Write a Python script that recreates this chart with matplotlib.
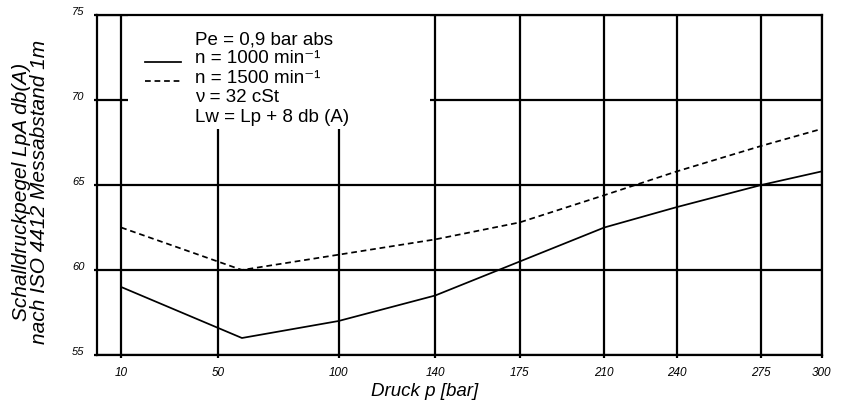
import matplotlib
matplotlib.use("Agg")
import matplotlib.pyplot as plt
from matplotlib.lines import Line2D
from matplotlib.patches import Rectangle
from matplotlib.legend_handler import HandlerLine2D

plt.rcParams['font.family'] = ['Liberation Sans', 'DejaVu Sans']

# Druck p [bar] und Schalldruckpegel LpA [db(A)]
druck = [10, 60, 100, 140, 175, 210, 240, 275, 300]
lpa_n1000 = [59.0, 56.0, 57.0, 58.5, 60.5, 62.5, 63.7, 65.0, 65.8]
lpa_n1500 = [62.5, 60.0, 60.9, 61.8, 62.8, 64.4, 65.8, 67.3, 68.3]

x_ticks = [10, 50, 100, 140, 175, 210, 240, 275, 300]
y_ticks = [55, 60, 65, 70, 75]

legend_labels = ["Pe = 0,9 bar abs",
                 "n = 1000 min\u207b\u00b9",
                 "n = 1500 min\u207b\u00b9",
                 "\u03bd = 32 cSt",
                 "Lw = Lp + 8 db (A)"]


class LowLine(HandlerLine2D):
    # legend key sits close to the text baseline
    def create_artists(self, legend, orig_handle, xdescent, ydescent,
                       width, height, fontsize, trans):
        return super().create_artists(legend, orig_handle, xdescent, ydescent,
                                      width, height * 0.3, fontsize, trans)


dash = (0, (3.3, 2.2))

fig = plt.figure(figsize=(8.43, 4.12), dpi=100)
ax = fig.add_axes([97/843, 1-355/412, 724.7/843, 340/412])

ax.plot(druck, lpa_n1000, color='black', lw=1.25)
ax.plot(druck, lpa_n1500, color='black', lw=1.25, linestyle=dash)

ax.set_xlim(0, 300)
ax.set_ylim(55, 75)
ax.set_xticks(x_ticks)
ax.set_yticks(y_ticks)
ax.set_xticklabels([str(v) for v in x_ticks], fontstyle='italic', fontsize=8.5)
ax.set_yticklabels([str(v) for v in y_ticks], fontstyle='italic', fontsize=8)
for lbl in ax.get_yticklabels():
    lbl.set_verticalalignment('baseline')

ax.grid(True, color='black', lw=1.6)
ax.tick_params(direction='out', length=2.5, width=1.6, color='black')
ax.tick_params(axis='x', pad=6.5)
ax.tick_params(axis='y', pad=6.5)
for s in ax.spines.values():
    s.set_linewidth(1.6)

# white area behind the legend text (grid is interrupted there)
ax.add_patch(Rectangle((0.0428, 0.665), 0.417, 0.34, transform=ax.transAxes,
                       facecolor='white', edgecolor='none', zorder=2.2))

handles = [Line2D([], [], color='none'),
           Line2D([], [], color='black', lw=1.25),
           Line2D([], [], color='black', lw=1.25, linestyle=dash),
           Line2D([], [], color='none'),
           Line2D([], [], color='none')]
leg = ax.legend(handles, legend_labels, loc='upper left',
                bbox_to_anchor=(0.0662, 0.953), borderaxespad=0, borderpad=0,
                frameon=False, fontsize=13.5, handlelength=1.9,
                handletextpad=0.75, labelspacing=0.12,
                handler_map={Line2D: LowLine()})
leg.set_zorder(3)

fig.text(30.5/843, 1-192/412, "Schalldruckpegel LpA db(A)\nnach ISO 4412 Messabstand 1m",
         rotation=90, ha='center', va='center', fontstyle='italic', fontsize=15,
         multialignment='center', linespacing=0.95)
fig.text(425/843, 1-391/412, "Druck p [bar]", ha='center', va='center',
         fontstyle='italic', fontsize=13.5)

fig.savefig("out.png", dpi=100, facecolor='white')
